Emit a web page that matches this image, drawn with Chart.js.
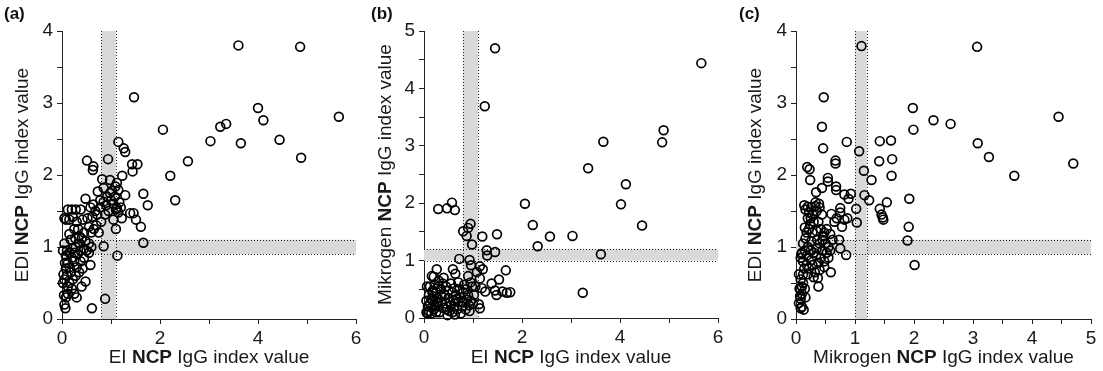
<!DOCTYPE html>
<html>
<head>
<meta charset="utf-8">
<script src="https://cdn.jsdelivr.net/npm/chart.js@4.4.0/dist/chart.umd.min.js"></script>
<style>
  body { margin: 0; background: #fff; }
  .panel { position: absolute; top: 0; }
</style>
</head>
<body>
<canvas id="chartA" class="panel" width="367" height="371" style="left:0px"></canvas>
<canvas id="chartB" class="panel" width="368" height="371" style="left:367px"></canvas>
<canvas id="chartC" class="panel" width="368" height="371" style="left:735px"></canvas>
<script>
// (a) EI (x) vs EDI (y)
const eiA = [3.60,4.86,1.47,4.00,4.11,5.65,3.23,3.35,3.03,3.65,4.44,4.88,2.06,2.57,2.21,2.31,1.66,1.75,1.66,1.61,1.51,1.46,1.39,
  1.15,1.26,1.29,0.94,0.51,0.64,0.63,1.43,1.54,1.44,1.23,0.82,0.98,1.12,1.09,0.73,0.85,0.98,1.15,1.29,0.48,0.64,0.85,
  1.13,0.85,0.88,0.61,0.07,1.05,1.22,1.12,1.10,
  0.68,0.72,0.78,0.90,0.95,1.00,1.05,1.10,1.15,1.20,0.88,0.80,0.70,0.62,0.65,0.75,0.60,0.58,0.92,1.02,1.08,1.17,0.55,0.78,
  0.05,0.12,0.20,0.28,0.38,0.15,0.22,0.30,0.08,0.25,0.35,0.42,0.45,0.48,0.52,0.50,0.45,0.55,0.58,0.48,0.40,0.35,0.30,0.28,
  0.25,0.20,0.15,0.10,0.05,0.08,0.12,0.18,0.22,0.10,0.05,0.03,0.08,0.15,0.20,0.12,0.08,0.04,0.05,0.30,0.25,0.32,0.38,0.42,
  0.18,0.28,0.35,0.40,0.45,0.55,0.15,0.22,0.26,0.02,0.06,0.12,0.27,0.33,0.02,0.16,0.38,0.60];
const ediA = [3.80,3.78,3.08,2.93,2.76,2.81,2.67,2.71,2.47,2.44,2.49,2.24,2.63,2.19,1.99,1.65,1.74,1.58,1.06,1.28,1.38,1.47,1.47,
  2.46,2.37,2.32,2.22,2.20,2.12,2.07,2.15,2.15,2.05,1.99,1.94,1.93,1.89,1.84,1.77,1.82,1.75,1.79,1.72,1.67,1.59,1.63,
  0.88,1.01,0.28,0.15,0.15,1.38,1.40,1.54,1.25,
  1.50,1.45,1.55,1.58,1.50,1.65,1.60,1.52,1.48,1.55,1.45,1.35,1.30,1.42,1.25,1.20,1.20,1.55,1.70,1.78,1.70,1.62,1.28,1.65,
  1.40,1.52,1.52,1.52,1.52,1.38,1.42,1.35,1.38,1.25,1.15,1.38,1.20,1.08,1.40,0.95,0.98,0.92,0.75,0.52,0.45,0.65,0.72,0.60,
  0.80,0.85,0.92,0.95,1.05,0.88,0.78,0.65,0.55,0.60,0.55,0.62,0.70,0.50,0.42,0.35,0.30,0.33,0.20,0.30,0.35,0.90,0.80,0.70,
  1.10,1.00,1.05,1.12,0.85,1.05,1.18,0.98,0.92,0.95,0.78,0.45,1.12,1.25,0.50,0.72,0.95,1.00];

// (b) EI (x) vs Mikrogen (y)
const eiB = [1.45,5.66,1.24,4.89,4.86,3.66,3.35,4.12,4.02,2.06,4.45,2.22,2.57,3.03,2.32,3.61,3.24,0.29,0.47,0.63,0.57,0.80,0.87,
  0.90,0.95,0.98,1.19,1.49,1.28,1.29,1.45,0.72,0.93,0.96,1.14,1.67,1.53,1.60,1.69,1.76,1.45,1.25,1.38,1.48,0.20,0.26,0.59,
  0.64,0.90,1.14,1.14,1.12,0.93,0.63,0.07,0.17,1.08,1.05,1.18,1.20,0.16,
  0.05,0.10,0.15,0.20,0.25,0.30,0.12,0.18,0.22,0.28,0.35,0.40,0.45,0.50,0.55,0.60,0.65,0.70,0.75,0.80,0.85,0.90,0.95,1.00,
  0.78,0.68,0.52,0.42,0.35,0.30,0.25,0.20,0.15,0.08,0.38,0.45,0.50,0.58,0.62,0.72,0.82,0.88,0.92,1.02,0.10,0.05,0.32,0.48,
  0.55,0.40,0.30,0.22,0.12,0.18,0.62,0.75,0.85,0.98,0.70,0.45,0.27,0.36,0.53,0.66,0.80,0.58,0.06,0.95];
const mikB = [4.70,4.44,3.69,3.27,3.06,3.07,2.61,2.33,1.98,1.99,1.61,1.62,1.42,1.43,1.25,1.11,0.44,1.90,1.91,1.88,2.01,1.51,1.43,
  1.57,1.64,1.28,1.42,1.46,1.18,1.09,1.15,1.03,1.01,0.92,0.90,0.83,0.67,0.46,0.44,0.45,0.48,0.46,0.60,0.40,0.72,0.85,0.85,
  0.77,0.73,0.69,0.17,0.24,0.12,0.06,0.08,0.45,0.80,0.55,0.52,0.85,0.73,
  0.10,0.12,0.08,0.15,0.10,0.20,0.25,0.30,0.22,0.35,0.28,0.18,0.25,0.35,0.22,0.30,0.40,0.28,0.35,0.45,0.50,0.40,0.30,0.25,
  0.20,0.15,0.12,0.40,0.50,0.55,0.45,0.38,0.33,0.20,0.60,0.55,0.48,0.45,0.52,0.50,0.58,0.32,0.22,0.40,0.40,0.30,0.10,0.05,
  0.60,0.70,0.65,0.58,0.55,0.48,0.20,0.08,0.15,0.55,0.62,0.15,0.28,0.38,0.28,0.33,0.28,0.10,0.55,0.62];

// (c) Mikrogen (x) vs EDI (y)
const mikC = [1.11,3.07,0.47,1.98,0.44,4.45,2.33,2.62,1.99,3.08,3.27,4.70,3.70,0.46,0.86,1.07,1.42,1.61,1.41,1.63,1.62,1.15,
  1.28,0.67,0.67,0.19,0.23,0.24,1.92,1.54,1.24,1.16,1.42,1.45,1.47,1.48,1.91,1.89,2.01,1.02,1.03,0.85,0.59,0.93,0.89,0.82,
  0.68,0.68,0.54,0.54,0.44,0.34,0.75,0.75,0.60,0.87,0.78,0.73,0.75,0.69,0.82,0.65,
  0.14,0.20,0.26,0.33,0.40,0.15,0.33,0.39,0.37,0.38,0.10,0.13,
  0.16,0.22,0.28,0.35,0.25,0.30,0.22,0.28,0.35,0.42,0.48,0.45,0.50,0.55,0.58,0.52,0.45,0.40,0.35,0.30,0.25,0.20,0.15,0.10,
  0.08,0.12,0.18,0.22,0.28,0.32,0.38,0.42,0.48,0.05,0.08,0.12,0.15,0.10,0.08,0.05,0.07,0.12,0.18,0.26,0.34,0.40,0.30,0.20,
  0.14,0.46,0.52,0.58,0.62,0.48,0.55,0.36,0.26,0.16,0.09,0.12,0.20,0.24,0.10,0.06,0.16,0.08,0.18,0.38,0.44];
const ediC = [3.79,3.78,3.08,2.93,2.67,2.81,2.76,2.71,2.63,2.44,2.25,2.16,1.99,2.37,2.46,2.33,2.47,2.48,2.19,2.22,1.99,2.06,
  1.93,2.20,2.16,2.11,2.08,1.93,1.67,1.62,1.65,1.72,1.53,1.45,1.41,1.38,1.28,1.09,0.75,1.53,1.34,0.89,0.65,1.74,1.67,1.73,
  1.84,1.79,1.96,1.91,1.82,1.76,1.54,1.48,1.46,1.40,1.28,1.10,0.98,1.40,1.38,1.35,
  1.58,1.56,1.55,1.57,1.55,1.27,1.62,1.60,0.57,0.45,0.17,0.13,
  1.52,1.48,1.45,1.50,1.40,1.35,1.25,1.20,1.22,1.25,1.20,1.10,1.05,1.00,0.95,0.92,0.95,1.05,0.98,0.92,0.95,1.00,0.95,0.92,
  0.85,0.80,0.75,0.70,0.75,0.65,0.78,0.85,0.80,0.62,0.55,0.50,0.42,0.35,0.28,0.22,0.32,0.62,0.88,0.82,0.88,0.68,0.58,0.62,
  0.70,1.15,1.25,1.18,1.10,0.72,0.85,1.10,1.08,1.12,0.90,1.05,1.40,1.32,0.45,0.42,0.30,0.15,1.20,1.35,1.45];

// cut-off bands (grey zones) per panel: [low, high]
const bandAx = [0.8, 1.1], bandAy = [0.9, 1.1];
const bandBx = [0.8, 1.1], bandBy = [1.0, 1.2];
const bandCx = [1.0, 1.2], bandCy = [0.9, 1.1];

const FONT = "'Liberation Sans', Arial, Helvetica, sans-serif";

const toPoints = (xs, ys) => xs.map((x, i) => ({ x: x, y: ys[i] }));

// draw "A <b>NCP</b> B" style text centred on (cx, baseY)
const drawMixed = (ctx, parts, cx, baseY, angle) => {
  ctx.save();
  ctx.translate(cx, baseY);
  ctx.rotate(angle);
  let total = 0;
  parts.forEach(p => {
    ctx.font = (p[1] ? 'bold ' : '') + '19px ' + FONT;
    total += ctx.measureText(p[0]).width;
  });
  let x = -total / 2;
  ctx.fillStyle = '#1a1a1a';
  ctx.textBaseline = 'alphabetic';
  parts.forEach(p => {
    ctx.font = (p[1] ? 'bold ' : '') + '19px ' + FONT;
    ctx.fillText(p[0], x, 0);
    x += ctx.measureText(p[0]).width;
  });
  ctx.restore();
};

const bandsPlugin = {
  id: 'bands',
  beforeDatasetsDraw(chart, args, opts) {
    const { ctx, chartArea, scales } = chart;
    const x1 = scales.x.getPixelForValue(opts.bx[0]);
    const x2 = scales.x.getPixelForValue(opts.bx[1]);
    const y1 = scales.y.getPixelForValue(opts.by[1]);
    const y2 = scales.y.getPixelForValue(opts.by[0]);
    ctx.save();
    ctx.fillStyle = '#d9d9d9';
    ctx.fillRect(x1, chartArea.top, x2 - x1, chartArea.bottom - chartArea.top);
    ctx.fillRect(chartArea.left, y1, chartArea.right - chartArea.left, y2 - y1);
    ctx.strokeStyle = '#222';
    ctx.lineWidth = 1;
    ctx.setLineDash([1, 2]);
    ctx.beginPath();
    [x1, x2].forEach(x => { ctx.moveTo(Math.round(x) + 0.5, chartArea.top); ctx.lineTo(Math.round(x) + 0.5, chartArea.bottom); });
    [y1, y2].forEach(y => { ctx.moveTo(chartArea.left, Math.round(y) + 0.5); ctx.lineTo(chartArea.right, Math.round(y) + 0.5); });
    ctx.stroke();
    ctx.restore();
  },
  afterDraw(chart, args, opts) {
    const { ctx, chartArea } = chart;
    const mid = (chartArea.left + chartArea.right) / 2;
    drawMixed(ctx, opts.xTitle, mid, 363, 0);
    drawMixed(ctx, opts.yTitle, opts.yTitleX, (chartArea.top + chartArea.bottom) / 2, -Math.PI / 2);
    ctx.save();
    ctx.font = 'bold 17px ' + FONT;
    ctx.fillStyle = '#111';
    ctx.textBaseline = 'alphabetic';
    ctx.fillText(opts.tag, 4, 19);
    ctx.restore();
  }
};

const makeChart = (el, points, cfg) => new Chart(el, {
  type: 'scatter',
  data: {
    datasets: [{
      data: points,
      pointStyle: 'circle',
      pointRadius: 4.4,
      pointBorderWidth: 1.7,
      borderColor: '#000',
      backgroundColor: 'rgba(0,0,0,0)',
      clip: false
    }]
  },
  options: {
    responsive: false,
    animation: false,
    layout: { padding: { top: cfg.top, right: cfg.right, left: 0, bottom: 0 } },
    plugins: {
      legend: { display: false },
      tooltip: { enabled: false },
      bands: cfg.bands
    },
    scales: {
      x: {
        type: 'linear',
        min: 0, max: cfg.xMax,
        border: { display: true, color: '#222', width: 1 },
        grid: { display: true, drawOnChartArea: false, drawTicks: true, tickLength: 5, color: '#222' },
        ticks: {
          stepSize: cfg.xStep,
          autoSkip: false,
          padding: 3,
          color: '#1a1a1a',
          font: { family: FONT, size: 19 },
          maxRotation: 0,
          callback: v => (v % cfg.xLabelEvery === 0 ? String(v) : '')
        },
        afterFit: s => { s.height = cfg.xH; }
      },
      y: {
        type: 'linear',
        min: 0, max: cfg.yMax,
        border: { display: true, color: '#222', width: 1 },
        grid: { display: true, drawOnChartArea: false, drawTicks: true, tickLength: 5, color: '#222' },
        ticks: {
          stepSize: 0.5,
          autoSkip: false,
          padding: 4,
          color: '#1a1a1a',
          font: { family: FONT, size: 19 },
          callback: v => (v % 1 === 0 ? String(v) : '')
        },
        afterFit: s => { s.width = cfg.yW; }
      }
    }
  },
  plugins: [bandsPlugin]
});

makeChart(document.getElementById('chartA'), toPoints(eiA, ediA), {
  top: 31, right: 11, xH: 52, yW: 62, xMax: 6, xStep: 1, xLabelEvery: 2, yMax: 4,
  bands: { bx: bandAx, by: bandAy, tag: '(a)', yTitleX: 28,
    xTitle: [['EI ', false], ['NCP', true], [' IgG index value', false]],
    yTitle: [['EDI ', false], ['NCP', true], [' IgG index value', false]] }
});

makeChart(document.getElementById('chartB'), toPoints(eiB, mikB), {
  top: 31, right: 17, xH: 53, yW: 57, xMax: 6, xStep: 1, xLabelEvery: 2, yMax: 5,
  bands: { bx: bandBx, by: bandBy, tag: '(b)', yTitleX: 24,
    xTitle: [['EI ', false], ['NCP', true], [' IgG index value', false]],
    yTitle: [['Mikrogen ', false], ['NCP', true], [' IgG index value', false]] }
});

makeChart(document.getElementById('chartC'), toPoints(mikC, ediC), {
  top: 31, right: 12, xH: 52, yW: 61, xMax: 5, xStep: 0.5, xLabelEvery: 1, yMax: 4,
  bands: { bx: bandCx, by: bandCy, tag: '(c)', yTitleX: 26,
    xTitle: [['Mikrogen ', false], ['NCP', true], [' IgG index value', false]],
    yTitle: [['EDI ', false], ['NCP', true], [' IgG index value', false]] }
});
</script>
</body>
</html>
